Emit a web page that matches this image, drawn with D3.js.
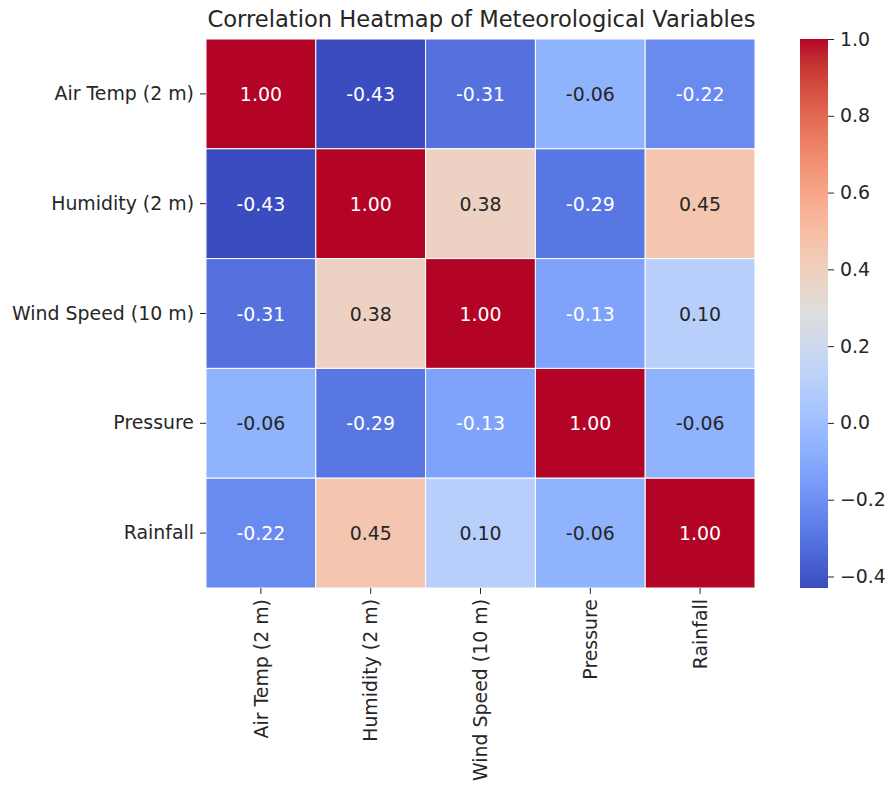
<!DOCTYPE html>
<html>
<head>
<meta charset="utf-8">
<script src="https://cdn.jsdelivr.net/npm/d3@7"></script>
<style>
  body { margin: 0; background: #fff; }
  text { font-family: "DejaVu Sans", sans-serif; }
</style>
</head>
<body>
<div id="general"></div>
<script>
const w = 888, h = 785;

// data
const variables = ["Air Temp (2 m)", "Humidity (2 m)", "Wind Speed (10 m)", "Pressure", "Rainfall"];
const corrAirTemp = [1.00, -0.43, -0.31, -0.06, -0.22];
const corrHumidity = [-0.43, 1.00, 0.38, -0.29, 0.45];
const corrWind = [-0.31, 0.38, 1.00, -0.13, 0.10];
const corrPressure = [-0.06, -0.29, -0.13, 1.00, -0.06];
const corrRainfall = [-0.22, 0.45, 0.10, -0.06, 1.00];
const colorbarTicks = [1.0, 0.8, 0.6, 0.4, 0.2, 0.0, -0.2, -0.4];
const title = "Correlation Heatmap of Meteorological Variables";

const matrix = [corrAirTemp, corrHumidity, corrWind, corrPressure, corrRainfall];
const cells = [];
matrix.forEach((row, i) => row.forEach((v, j) => cells.push({ r: variables[i], c: variables[j], v })));

const vmin = d3.min(cells, d => d.v), vmax = d3.max(cells, d => d.v);

// coolwarm (Moreland) stops
const cw = [[59,76,192],[68,90,204],[77,104,215],[87,117,225],[98,130,234],[108,142,241],[119,154,247],[130,165,251],[141,176,254],[152,185,255],[163,194,255],[174,201,253],[184,208,249],[194,213,244],[204,217,238],[213,219,230],[221,221,221],[229,216,209],[236,211,197],[241,204,184],[245,196,172],[247,187,160],[247,177,148],[247,166,135],[244,154,123],[241,141,111],[236,127,99],[229,112,88],[222,96,77],[213,80,66],[203,62,56],[192,40,47],[180,4,38]];
const coolwarm = d3.scaleLinear()
  .domain(cw.map((d, i) => i / (cw.length - 1)))
  .range(cw.map(d => `rgb(${d[0]},${d[1]},${d[2]})`));
const color = v => coolwarm((v - vmin) / (vmax - vmin));

function lum(c) {
  const rgb = d3.rgb(c);
  const f = x => { x /= 255; return x <= 0.03928 ? x / 12.92 : Math.pow((x + 0.055) / 1.055, 2.4); };
  return 0.2126 * f(rgb.r) + 0.7152 * f(rgb.g) + 0.0722 * f(rgb.b);
}

const m = { l: 206, t: 39, size: 549 };
const fs = 18.9;

const svg = d3.select("#general").append("svg").attr("width", w).attr("height", h);

const x = d3.scaleBand().domain(variables).range([m.l, m.l + m.size]);
const y = d3.scaleBand().domain(variables).range([m.t, m.t + m.size]);

svg.append("text")
  .attr("x", m.l + m.size / 2 + 1).attr("y", 27)
  .attr("text-anchor", "middle").attr("font-size", 22.6).attr("fill", "#262626")
  .text(title);

svg.append("g").selectAll("rect")
  .data(cells)
  .join("rect")
    .attr("x", d => x(d.c)).attr("y", d => y(d.r))
    .attr("width", x.bandwidth()).attr("height", y.bandwidth())
    .attr("fill", d => color(d.v))
    .attr("stroke", "#fff").attr("stroke-width", 1);

svg.append("g").selectAll("text")
  .data(cells)
  .join("text")
    .attr("x", d => x(d.c) + x.bandwidth() / 2)
    .attr("y", d => y(d.r) + y.bandwidth() / 2)
    .attr("text-anchor", "middle").attr("dominant-baseline", "central")
    .attr("font-size", fs)
    .attr("fill", d => lum(color(d.v)) > 0.408 ? "#262626" : "#fff")
    .text(d => d.v.toFixed(2));

const yAxis = svg.append("g")
  .attr("transform", `translate(${m.l},0)`)
  .call(d3.axisLeft(y).tickSize(6).tickPadding(6));
const xAxis = svg.append("g")
  .attr("transform", `translate(0,${m.t + m.size})`)
  .call(d3.axisBottom(x).tickSize(6).tickPadding(6));
[yAxis, xAxis].forEach(a => {
  a.select(".domain").remove();
  a.selectAll("text").attr("font-size", fs).attr("fill", "#262626").attr("font-family", "DejaVu Sans");
  a.selectAll("line").attr("stroke", "#262626");
});
xAxis.selectAll("text")
  .attr("transform", "rotate(-90)")
  .attr("text-anchor", "end")
  .attr("dy", "0.35em")
  .attr("x", -11).attr("y", 0);

// colorbar
const cb = { x: 800, w: 28 };
const cy = d3.scaleLinear().domain([vmin, vmax]).range([m.t + m.size, m.t]);
const defs = svg.append("defs");
const grad = defs.append("linearGradient").attr("id", "cbgrad")
  .attr("x1", 0).attr("y1", 1).attr("x2", 0).attr("y2", 0);
cw.forEach((d, i) => grad.append("stop")
  .attr("offset", i / (cw.length - 1))
  .attr("stop-color", `rgb(${d[0]},${d[1]},${d[2]})`));
svg.append("rect")
  .attr("x", cb.x).attr("y", m.t).attr("width", cb.w).attr("height", m.size)
  .attr("fill", "url(#cbgrad)");
const cAxis = svg.append("g")
  .attr("transform", `translate(${cb.x + cb.w},0)`)
  .call(d3.axisRight(cy).tickValues(colorbarTicks).tickSize(6).tickPadding(6)
    .tickFormat(d => d3.format(".1f")(d).replace("-", "\u2212")));
cAxis.select(".domain").remove();
cAxis.selectAll("text").attr("font-size", fs).attr("fill", "#262626").attr("font-family", "DejaVu Sans");
cAxis.selectAll("line").attr("stroke", "#262626");
</script>
</body>
</html>
